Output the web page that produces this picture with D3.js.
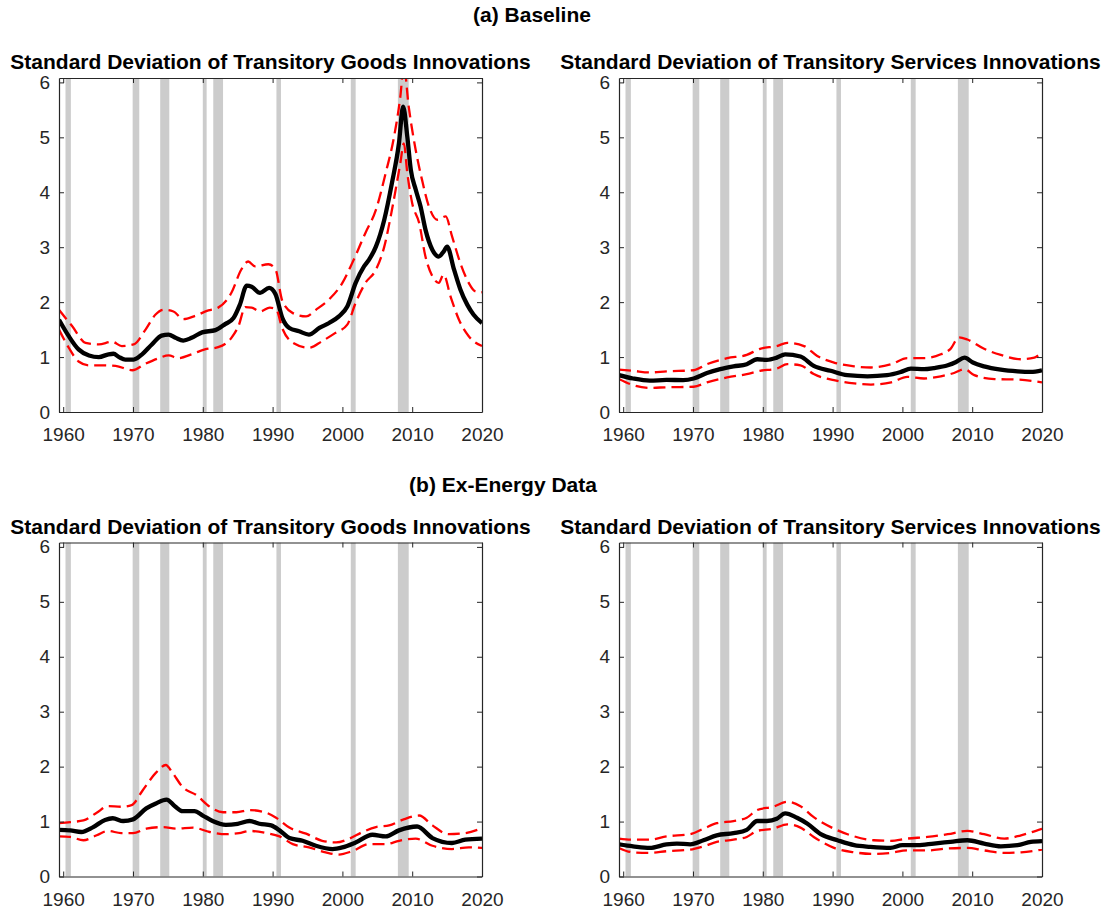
<!DOCTYPE html>
<html lang="en">
<head>
  <meta charset="UTF-8">
  <title>Transitory innovations SD</title>
  <script src="https://d3js.org/d3.v7.min.js"></script>
  <style>
    body { margin: 0; background: #fff; }
    text { font-family: "Liberation Sans", Arial, sans-serif; }
    .title { font-size: 21px; font-weight: bold; fill: #000; }
  </style>
</head>
<body>
  <svg id="chart" width="1110" height="911"></svg>

  <script>
    // NBER recessions (start, end) in fractional years
    const recessions = [[1960.33, 1961.1], [1969.95, 1970.9], [1973.9, 1975.2], [1980.0, 1980.55],
                        [1981.5, 1982.9], [1990.55, 1991.2], [2001.2, 2001.9], [2007.95, 2009.5]];

    const xTicks = [1960, 1970, 1980, 1990, 2000, 2010, 2020];
    const yTicks = [0, 1, 2, 3, 4, 5, 6];

    // (a) baseline, goods: [year, value]
    const goodsBaseMid = [[1959.4,1.68],[1960.8,1.38],[1962.2,1.14],[1963.7,1.03],[1965.1,1.0],[1966.5,1.05],[1967.2,1.06],
      [1968,1.0],[1968.9,0.955],[1970.1,0.955],[1971.3,1.05],[1972.7,1.23],[1974.1,1.39],[1975.1,1.41],[1976.1,1.35],
      [1977.2,1.30],[1978.4,1.35],[1979.9,1.45],[1981.8,1.49],[1983.2,1.60],[1984.4,1.71],[1985.3,1.95],[1986.3,2.30],
      [1987,2.28],[1988.2,2.17],[1989.5,2.26],[1990.4,2.15],[1991.4,1.71],[1992.4,1.53],[1993.8,1.47],[1995.2,1.41],
      [1996.7,1.53],[1998.1,1.62],[1999.5,1.74],[2000.7,1.92],[2001.9,2.35],[2003.1,2.65],[2003.8,2.77],[2004.8,3.01],
      [2006,3.5],[2007.1,4.17],[2008.1,4.89],[2008.7,5.56],[2009.3,5.01],[2009.8,4.41],[2010.5,4.05],[2011.2,3.74],
      [2011.9,3.32],[2012.9,2.95],[2013.8,2.83],[2014.5,2.92],[2015,3.01],[2016,2.59],[2016.9,2.23],[2017.9,1.95],
      [2018.8,1.77],[2020,1.62]];
    const goodsBaseUpper = [[1959.4,1.86],[1961.3,1.56],[1963.2,1.26],[1965.1,1.23],[1967,1.28],[1968.4,1.2],[1970.1,1.23],
      [1971.8,1.5],[1973.2,1.77],[1974.4,1.86],[1975.8,1.83],[1977.2,1.69],[1978.9,1.75],[1980.8,1.85],[1982.2,1.90],
      [1984.1,2.17],[1985.5,2.59],[1986.5,2.74],[1987.5,2.65],[1989.4,2.69],[1990.4,2.6],[1991.4,2.02],[1992.9,1.80],
      [1994.8,1.74],[1996.2,1.86],[1998.1,2.05],[2000,2.35],[2001.4,2.71],[2003.3,3.26],[2004.8,3.68],[2006.2,4.35],
      [2007.4,5.01],[2008.3,5.74],[2008.8,6.3],[2009.5,5.56],[2010.5,4.77],[2011.4,4.23],[2012.4,3.74],[2013.6,3.5],
      [2014.8,3.56],[2015.7,3.2],[2016.9,2.71],[2018.1,2.35],[2019,2.2],[2020,2.18]];
    const goodsBaseLower = [[1959.4,1.5],[1960.8,1.17],[1962.2,0.92],[1963.7,0.85],[1965.6,0.85],[1967.5,0.84],[1969.9,0.76],
      [1971.8,0.88],[1973.7,0.98],[1975.1,1.03],[1976.5,0.98],[1978.4,1.05],[1980.3,1.14],[1982.2,1.18],[1984.1,1.35],
      [1985.1,1.56],[1986.1,1.91],[1987,1.90],[1988.2,1.83],[1989.6,1.90],[1990.5,1.87],[1991.4,1.52],[1992.9,1.26],
      [1995.2,1.17],[1997.1,1.29],[1999,1.44],[2000.7,1.59],[2001.9,1.99],[2003.3,2.35],[2004.8,2.59],[2006,3.01],
      [2007.1,3.68],[2008.3,4.53],[2008.8,4.89],[2009.3,4.35],[2010,3.80],[2011,3.44],[2011.9,2.83],[2012.9,2.47],
      [2013.8,2.35],[2014.5,2.5],[2015.5,2.1],[2016.7,1.68],[2018.1,1.38],[2020,1.2]];

    // (a) baseline, services
    const servBaseMid = [[1959.4,0.67],[1961.4,0.61],[1963.8,0.57],[1966.2,0.585],[1968.6,0.58],[1970.1,0.61],[1972,0.71],
      [1973.9,0.78],[1975.8,0.83],[1977.7,0.87],[1979.2,0.96],[1980.6,0.95],[1982,0.99],[1983.2,1.05],[1985.4,1.01],
      [1987.3,0.84],[1989.7,0.75],[1992.1,0.67],[1995,0.65],[1997.8,0.67],[1999.8,0.73],[2001.2,0.79],[2003.1,0.78],
      [2004.5,0.8],[2006.5,0.85],[2007.7,0.91],[2008.9,0.99],[2010.1,0.90],[2011.7,0.83],[2014.1,0.77],[2016.5,0.74],
      [2018.4,0.73],[2020,0.76]];
    const servBaseUpper = [[1959.4,0.77],[1961.4,0.75],[1963.8,0.72],[1966.2,0.74],[1970.1,0.76],[1972,0.87],[1974.9,0.98],
      [1977.7,1.04],[1979.6,1.15],[1982,1.20],[1983.5,1.26],[1985.9,1.20],[1987.8,1.02],[1990.2,0.90],[1993.1,0.83],
      [1995.5,0.81],[1998.4,0.87],[2000.7,0.98],[2003.1,0.98],[2005.5,1.05],[2006.9,1.15],[2008.1,1.36],[2009.3,1.32],
      [2011.7,1.15],[2014.1,1.04],[2017,0.96],[2018.9,0.99],[2020,1.09]];
    const servBaseLower = [[1959.4,0.6],[1961.4,0.49],[1963.8,0.44],[1966.2,0.45],[1970.1,0.46],[1972,0.54],[1974.9,0.63],
      [1977.7,0.69],[1979.6,0.75],[1982,0.79],[1983.5,0.87],[1985.4,0.85],[1987.3,0.69],[1990.2,0.58],[1993.1,0.52],
      [1995.5,0.50],[1998.4,0.54],[2000.7,0.64],[2003.1,0.61],[2005.5,0.65],[2007.4,0.71],[2008.9,0.78],[2010.3,0.67],
      [2013.2,0.6],[2016.5,0.59],[2020,0.54]];

    // (b) ex-energy, goods
    const goodsExMid = [[1959.4,0.85],[1961,0.84],[1962.6,0.81],[1964.3,0.90],[1966,1.03],[1967.1,1.06],[1968.6,1.01],
      [1970,1.04],[1971.9,1.24],[1973.3,1.33],[1974.8,1.40],[1976,1.28],[1977.1,1.19],[1978.8,1.19],[1980,1.11],
      [1981.4,1.01],[1983.3,0.94],[1985,0.96],[1986.7,1.01],[1988.1,0.96],[1989.8,0.93],[1991,0.84],[1992.4,0.70],
      [1994.3,0.65],[1996.2,0.56],[1998.6,0.50],[2000,0.53],[2001.9,0.62],[2004.3,0.76],[2006.2,0.73],[2008.1,0.84],
      [2010.7,0.91],[2012.9,0.70],[2015.7,0.61],[2017.6,0.67],[2020,0.69]];
    const goodsExUpper = [[1959.4,0.97],[1961,0.99],[1962.9,1.02],[1964.8,1.16],[1966.4,1.28],[1968.3,1.27],[1969.8,1.30],
      [1971.4,1.57],[1973.3,1.89],[1974.7,2.03],[1975.7,1.88],[1977.1,1.63],[1979.1,1.48],[1981,1.27],[1982.9,1.17],
      [1984.8,1.17],[1986.7,1.21],[1989.1,1.16],[1990.5,1.07],[1992.4,0.89],[1994.8,0.78],[1997.1,0.65],[1999.1,0.62],
      [2001,0.69],[2002.9,0.81],[2004.8,0.90],[2006.7,0.93],[2008.6,1.03],[2011,1.11],[2012.9,0.93],[2015.2,0.77],
      [2017.6,0.79],[2020,0.88]];
    const goodsExLower = [[1959.4,0.73],[1961,0.72],[1962.9,0.66],[1964.8,0.75],[1966.4,0.83],[1968.3,0.79],[1970,0.79],
      [1971.9,0.87],[1974.3,0.90],[1976.2,0.87],[1978.6,0.89],[1981,0.81],[1983.3,0.77],[1985.2,0.79],[1986.7,0.83],
      [1989.1,0.79],[1991,0.73],[1992.9,0.59],[1995.2,0.53],[1997.6,0.44],[1999.5,0.40],[2001.4,0.46],[2003.8,0.59],
      [2006.2,0.59],[2008.1,0.65],[2010.5,0.69],[2012.9,0.56],[2015.7,0.50],[2018.1,0.53],[2020,0.52]];

    // (b) ex-energy, services
    const servExMid = [[1959.4,0.585],[1961.4,0.55],[1963.8,0.52],[1966.2,0.585],[1967.7,0.60],[1969.6,0.585],[1971.5,0.66],
      [1973.4,0.75],[1975.8,0.79],[1977.7,0.85],[1979.2,1.01],[1980.6,1.01],[1982,1.05],[1983.2,1.15],[1984.9,1.07],
      [1986.4,0.96],[1988.3,0.77],[1990.7,0.66],[1993.1,0.57],[1995.4,0.54],[1998.3,0.52],[2000,0.57],[2002.2,0.57],
      [2004.5,0.60],[2006.9,0.63],[2009.3,0.66],[2011.7,0.60],[2014.1,0.55],[2016.5,0.57],[2018.4,0.63],[2020,0.645]];
    const servExUpper = [[1959.4,0.69],[1961.4,0.67],[1963.8,0.67],[1966.2,0.73],[1969.6,0.77],[1971.5,0.87],[1973.4,0.97],
      [1975.8,1.01],[1977.7,1.07],[1979.2,1.21],[1981.5,1.27],[1983.5,1.36],[1985.4,1.28],[1987.3,1.08],[1990.2,0.87],
      [1993.1,0.73],[1995.9,0.66],[1998.3,0.65],[2000.7,0.69],[2003.6,0.72],[2006.5,0.77],[2009.3,0.83],[2011.7,0.77],
      [2014.6,0.69],[2017,0.75],[2020,0.87]];
    const servExLower = [[1959.4,0.52],[1961.4,0.44],[1963.8,0.43],[1966.2,0.46],[1969.6,0.49],[1971.5,0.55],[1973.4,0.63],
      [1975.8,0.67],[1977.7,0.72],[1979.2,0.83],[1981.5,0.87],[1983.5,0.95],[1985.4,0.89],[1987.3,0.72],[1990.2,0.52],
      [1993.1,0.44],[1995.9,0.41],[1998.3,0.43],[2000.7,0.475],[2003.6,0.475],[2006.5,0.51],[2009.3,0.52],[2011.7,0.475],
      [2014.6,0.43],[2017,0.44],[2020,0.49]];

    const goodsTitle = "Standard Deviation of Transitory Goods Innovations";
    const servTitle = "Standard Deviation of Transitory Services Innovations";

    const panels = [
      { row: 0, col: 0, title: goodsTitle, mid: goodsBaseMid, upper: goodsBaseUpper, lower: goodsBaseLower },
      { row: 0, col: 1, title: servTitle, mid: servBaseMid, upper: servBaseUpper, lower: servBaseLower },
      { row: 1, col: 0, title: goodsTitle, mid: goodsExMid, upper: goodsExUpper, lower: goodsExLower },
      { row: 1, col: 1, title: servTitle, mid: servExMid, upper: servExUpper, lower: servExLower }
    ];

    const svg = d3.select("#chart");
    const colLeft = [59, 619], rowTop = [78, 542.5];
    const plotW = 423, plotH = 334;
    const axisColor = "#262626";

    // section headings
    svg.append("text").attr("class", "title").attr("x", 532).attr("y", 21.5)
      .attr("text-anchor", "middle").text("(a) Baseline");
    svg.append("text").attr("class", "title").attr("x", 503).attr("y", 492)
      .attr("text-anchor", "middle").text("(b) Ex-Energy Data");

    panels.forEach((p, i) => {
      const left = colLeft[p.col], top = rowTop[p.row];
      const x = d3.scaleLinear().domain([1959.4, 2020]).range([left, left + plotW]);
      const y = d3.scaleLinear().domain([0, 6.08]).range([top + plotH, top]);

      svg.append("clipPath").attr("id", "clip" + i)
        .append("rect").attr("x", left).attr("y", top).attr("width", plotW).attr("height", plotH);

      const g = svg.append("g").attr("clip-path", `url(#clip${i})`);

      g.selectAll(".rec")
        .data(recessions)
        .join("rect")
        .attr("x", d => x(d[0]))
        .attr("width", d => x(d[1]) - x(d[0]))
        .attr("y", top)
        .attr("height", plotH)
        .attr("fill", "#cccccc");

      const line = d3.line()
        .x(d => x(d[0]))
        .y(d => y(d[1]))
        .curve(d3.curveMonotoneX);

      g.append("path").attr("d", line(p.mid))
        .attr("fill", "none").attr("stroke", "#000").attr("stroke-width", 4.3)
        .attr("stroke-linejoin", "round");

      [p.upper, p.lower].forEach(band => {
        g.append("path").attr("d", line(band))
          .attr("fill", "none").attr("stroke", "#ff0000").attr("stroke-width", 2.3)
          .attr("stroke-dasharray", "12,6");
      });

      // axes, box with inward ticks on all four sides
      const axes = [
        [d3.axisBottom(x).tickValues(xTicks).tickFormat(d3.format("d")).tickPadding(16), `translate(0,${top + plotH})`],
        [d3.axisTop(x).tickValues(xTicks).tickFormat(""), `translate(0,${top})`],
        [d3.axisLeft(y).tickValues(yTicks).tickFormat(d3.format("d")).tickPadding(9), `translate(${left},0)`],
        [d3.axisRight(y).tickValues(yTicks).tickFormat(""), `translate(${left + plotW},0)`]
      ];
      axes.forEach(([ax, tr]) => {
        const a = svg.append("g").attr("transform", tr)
          .call(ax.tickSizeInner(-5).tickSizeOuter(0));
        a.select(".domain").attr("stroke", axisColor).attr("stroke-width", 1.2);
        a.selectAll(".tick line").attr("stroke", axisColor).attr("stroke-width", 1);
        a.selectAll(".tick text").attr("fill", axisColor)
          .attr("font-size", "19px").attr("font-family", '"Liberation Sans", Arial, sans-serif');
      });

      svg.append("text").attr("class", "title")
        .attr("x", left + plotW / 2).attr("y", top - 9)
        .attr("text-anchor", "middle").text(p.title);
    });
  </script>
</body>
</html>
